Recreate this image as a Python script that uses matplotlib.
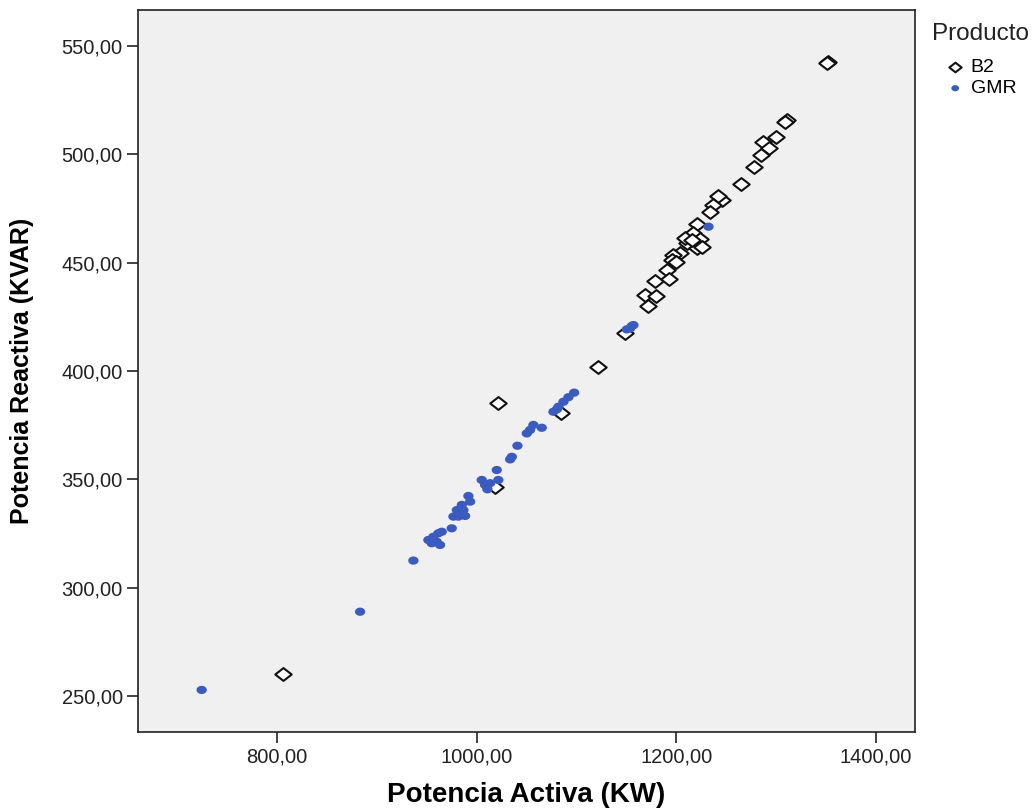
import matplotlib.pyplot as plt
import numpy as np
from matplotlib.path import Path
from matplotlib.ticker import FuncFormatter, FixedLocator

plt.rcParams['font.family'] = ['Liberation Sans', 'DejaVu Sans']

# Producto B2 (open diamonds)
b2_kw = [1351.8, 1350.5, 1311.3, 1309.0, 1300.0, 1287.3, 1293.3, 1285.0, 1277.3,
         1264.6, 1245.6, 1242.2, 1237.2, 1233.9, 1221.1, 1217.1, 1223.8, 1211.1,
         1208.8, 1220.5, 1225.6, 1203.8, 1197.1, 1195.5, 1190.5, 1178.8, 1193.1,
         1168.7, 1179.8, 1172.0, 1148.7, 1121.9, 1021.1, 1084.3, 1018.4, 805.7,
         1215.8, 1199.8]
b2_kvar = [542.5, 542.2, 515.8, 515.1, 508.1, 505.8, 502.8, 499.7, 494.0,
           486.3, 478.9, 480.8, 476.6, 473.5, 467.7, 463.6, 460.9, 458.9,
           461.2, 456.6, 457.4, 454.3, 453.5, 451.2, 446.6, 441.7, 442.3,
           435.1, 434.6, 430.1, 417.4, 402.0, 385.4, 380.8, 346.6, 260.0,
           460.5, 450.3]

# Producto GMR (filled dots)
gmr_kw = [1232.2, 1155.4, 1150.4, 1153.7, 1157.0, 1076.9, 1081.9, 1086.9, 1091.9,
          1097.6, 1080.3, 1056.8, 1065.2, 1050.2, 1053.5, 1040.8, 1033.5, 1035.2,
          1020.1, 1021.7, 1005.1, 1008.4, 1010.7, 1013.4, 991.7, 993.4, 985.1,
          986.7, 980.1, 976.7, 981.7, 988.4, 975.0, 951.6, 956.6, 961.6, 965.0,
          955.0, 960.0, 963.3, 936.6, 883.2, 724.5]
gmr_kvar = [466.6, 420.8, 419.2, 419.7, 421.2, 381.2, 383.5, 385.8, 387.9,
            390.0, 382.3, 375.1, 373.8, 371.2, 372.8, 365.5, 359.2, 360.4,
            354.3, 349.7, 349.7, 347.4, 345.4, 348.2, 342.3, 339.7, 338.2,
            335.8, 335.8, 332.8, 332.8, 333.1, 327.4, 322.0, 323.5, 325.1, 325.8,
            320.5, 321.2, 319.7, 312.5, 288.9, 252.8]

x_ticks = [800, 1000, 1200, 1400]
y_ticks = [250, 300, 350, 400, 450, 500, 550]

# slightly flattened diamond and ellipse markers, like the SPSS output
diamond = Path([(-1, 0), (0, 0.78), (1, 0), (0, -0.78), (-1, 0)],
               [Path.MOVETO, Path.LINETO, Path.LINETO, Path.LINETO, Path.CLOSEPOLY])
t = np.linspace(0, 2 * np.pi, 40)
ellipse = Path(np.column_stack([np.cos(t), 0.8 * np.sin(t)]), closed=True)

fig = plt.figure(figsize=(10.35, 8.08), dpi=100)
ax = fig.add_axes([0.1333, 0.0941, 0.7507, 0.8935])
ax.set_facecolor('#f0f0f0')

ax.scatter(b2_kw, b2_kvar, marker=diamond, s=140, facecolors='white',
           edgecolors='#111111', linewidths=1.5, label='B2', zorder=2)
ax.scatter(gmr_kw, gmr_kvar, marker=ellipse, s=55, color='#3a5cc0',
           edgecolors='none', label='GMR', zorder=3)

ax.set_xlim(660.7, 1439)
ax.set_ylim(233.4, 566.6)
ax.xaxis.set_major_locator(FixedLocator(x_ticks))
ax.yaxis.set_major_locator(FixedLocator(y_ticks))
fmt = FuncFormatter(lambda v, p: f"{v:.2f}".replace('.', ','))
ax.xaxis.set_major_formatter(fmt)
ax.yaxis.set_major_formatter(fmt)
ax.tick_params(axis='both', direction='out', length=8, width=1.2,
               colors='#222222', labelsize=14.5, labelcolor='#222222')
ax.tick_params(axis='x', pad=3)
ax.tick_params(axis='y', pad=3)
for sp in ax.spines.values():
    sp.set_linewidth(1.2)
    sp.set_color('#222222')

ax.set_xlabel('Potencia Activa (KW)', fontsize=20, fontweight='bold', va='center')
ax.set_ylabel('Potencia Reactiva (KVAR)', fontsize=18, fontweight='bold', va='center')
ax.xaxis.set_label_coords(0.5, -0.087)
ax.yaxis.set_label_coords(-0.149, 0.5)

fig.text(0.9005, 0.9585, 'Producto', fontsize=17.5, va='center', ha='left', color='#222222')
ax.legend(loc='upper left', bbox_to_anchor=(0.906, 0.94), bbox_transform=fig.transFigure,
          frameon=False, fontsize=14, handlelength=0.8, handletextpad=0.4,
          labelspacing=0.2, borderpad=0, markerscale=0.75)

fig.savefig('out.png', dpi=100)
